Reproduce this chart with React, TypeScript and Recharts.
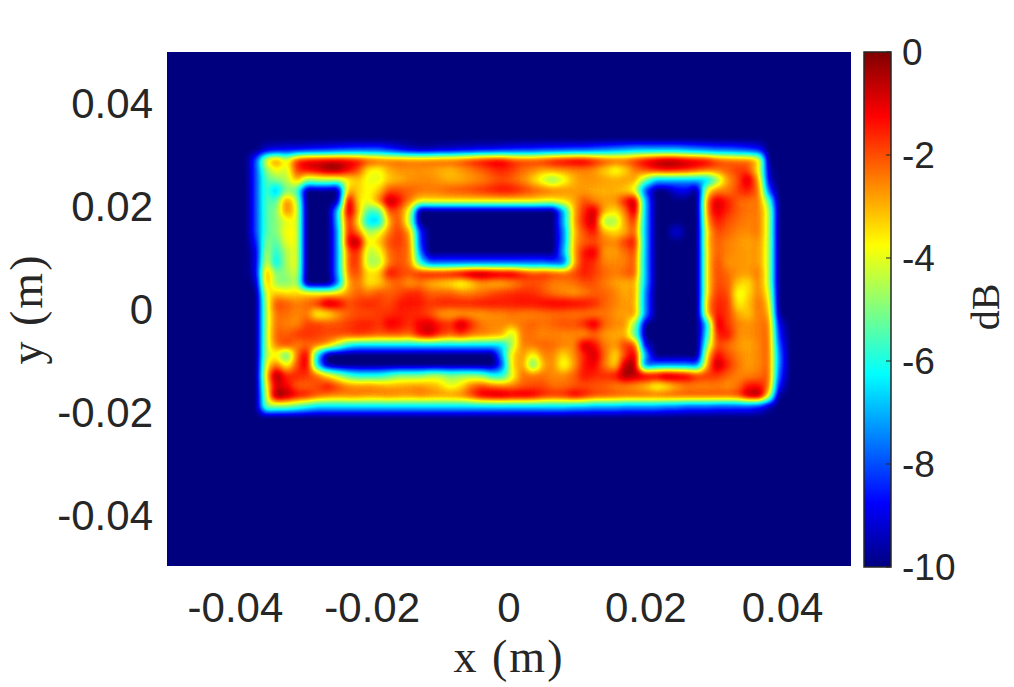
import React from 'react';
import { ScatterChart, Scatter, XAxis, YAxis, BarChart, Bar, Label } from 'recharts';

// dB, one list per row (y in mm in the name), columns are in columnsMm
const N = -10;
const columnsMm = [
  -37, -35.5, -34, -32.5, -31, -29.5, -28, -26.5, -25, -23.5,
  -22, -20.5, -19, -17.5, -16, -14.5, -13, -11.5, -10, -8.5,
  -7, -5.5, -4, -2.5, -1, 0.5, 2, 3.5, 5, 6.5,
  8, 9.5, 11, 12.5, 14, 15.5, 17, 18.5, 20, 21.5,
  23, 24.5, 26, 27.5, 29, 30.5, 32, 33.5, 35, 36.5,
  38, 39.5, 41,
];
const rowsMm = [31, 29, 27, 25, 23, 21, 19, 17, 15, 13, 11, 9, 7, 5, 3, 1, -1, -3, -5, -7, -9, -11, -13, -15, -17, -19];

const rowY31 = [N, -9.2, -9, -8.8, -8.8, -8.6, -8.5, -8.4, -8.2, -8.1,
  -8, -8, -8, -8.4, -8.8, -9.2, -9.4, -9.4, -9.2, -9.2,
  -9, -9, -8.8, -8.8, -8.6, -8.5, -8.4, -8.4, -8.2, -8.2,
  -8.1, -8, -8, -7.8, -7.6, -7.4, -7.2, -7, -7, -7,
  -7, -7, -7.2, -7.4, -7.6, -7.8, -7.8, -8, -8.2, -8.6];
const rowY29 = [-8, -4, -2.6, -4, -1.8, -1.3, -1.2, -1.1, -1.1, -1.2,
  -1.5, -2, -2.3, -2.5, -2.5, -2.6, -2.6, -2.5, -2.4, -2.3,
  -2.2, -1.8, -1.5, -1.2, -1.2, -1.8, -2, -2, -1.8, -1.4,
  -1.2, -1, -1, -1.5, -2, -2.2, -2.2, -1.8, -1.2, -0.8,
  -0.5, -0.6, -0.9, -1.1, -1.3, -2, -2.3, -2.5, -2.5, -3.5];
const rowY27 = [-8, -5, -3.8, -4.2, -1.8, -1.2, -1, -0.4, -0.4, -1.2,
  -2, -3.6, -3.8, -3, -2.7, -2.7, -2.7, -2.8, -3, -3.1,
  -2.8, -2.5, -2.2, -1.8, -1.6, -1.8, -2.3, -2.6, -2.9, -2.8,
  -2.7, -2.6, -2.5, -2.7, -3.3, -4, -3.4, -2.5, -2, -1.5,
  -1.3, -1.4, -1.6, -2, -2.3, -2.4, -2.2, -1.8, -2, -3.8, -9.5];
const rowY25 = [-8, -5.5, -5, -4.5, -3, -5, -4.7, -4.7, -4.5, -3.8,
  -3.2, -3.9, -4, -3.2, -3, -2.7, -2.6, -2.6, -2.8, -3,
  -2.9, -2.7, -2.5, -2.2, -2, -2.2, -2.6, -3.3, -4.2, -5,
  -4, -3, -2.7, -2.7, -2.8, -2.9, -2.8, -3, -5, -7,
  -7, -7, -7, -7, -7, -5, -2.8, -2, -0.7, -3, -9.2];
const rowY23 = [-8, -5.5, -7, -5, -5.5, N, N, N, -9.6, -3,
  -3.3, -3.8, -3.2, -2, -2, -2.2, -2.4, -2.5, -2.4, -2.2,
  -2.1, -2, -1.8, -1.6, -1.4, -1.5, -1.8, -2.2, -2.4, -2.6,
  -2.7, -2.8, -2.8, -2.9, -3, -3, -3.2, -4, -8, N,
  N, -9, -8.8, N, -3.8, -2.6, -2.5, -1.8, -1.5, -2.5, -8];
const rowY21 = [-8, -5.5, -5.5, -2.6, -4.5, N, N, N, -9.4, -0.7,
  -3.5, -3.8, -2.5, -0.5, -1.3, -2.5, -3.6, -3.6, -3.6, -3.6,
  -3.6, -3.6, -3.6, -3.6, -3.6, -3.6, -3.6, -3.6, -3.8, -3.8,
  -3.5, -3, -2, -2.5, -2.8, -2.7, -1.5, -0.6, -7, N,
  N, N, N, N, -2.5, -0.9, -1.5, -2.2, -2.4, -2.5, -5.5];
const rowY19 = [-8, -5.5, -5, -2.6, -4, N, N, N, -6.4, -0.7,
  -3, -5.5, -5.5, -2, -2.2, -4, N, N, N, N,
  N, N, N, N, N, N, N, N, N, N,
  -7, -3, -1.7, -0.7, -3, -3.5, -2.5, -0.7, -7, N,
  N, N, N, N, -2.5, -1, -1.6, -2.2, -2.4, -2.5, -4.5];
const rowY17 = [-8, -5.5, -5, -4, -4, N, N, N, -6.5, -1.5,
  -3.5, -6.5, -6.5, -3, -2, -4.5, N, N, N, N,
  N, N, N, N, N, N, N, N, N, N,
  -7, -3, -1.5, -0.7, -4.6, -4.6, -2.8, -1.8, -7, N,
  N, N, N, N, -3, -1.5, -2, -2.3, -2.5, -2.5, -4.5];
const rowY15 = [-8, -5.5, -5, -3.8, -4, N, N, N, -7, -1.5,
  -2.5, -4.5, -4, -2.5, -1.8, -3, -8.3, N, N, N,
  N, N, N, N, N, N, N, N, N, N,
  -7.5, -3.2, -2, -1.4, -3, -3.4, -3, -2.2, -7, N,
  N, -9, N, N, -3.5, -2, -2.2, -2.6, -2.6, -2.5, -4.5];
const rowY13 = [-8.5, -5, -5.5, -4, -4, N, N, N, -7, -1.1,
  -0.5, -3.8, -3.2, -2, -1.8, -2.6, -8.2, N, N, N,
  N, N, N, N, N, N, N, N, N, N,
  -7.5, -3, -2.2, -2, -2.4, -2.6, -1.8, -1.5, -7, N,
  N, N, N, N, -3.3, -2.2, -2.5, -2.7, -2.9, -2.7, -4.5];
const rowY11 = [-9, -4.5, -6, -4.5, -4, N, N, N, -7, -2.2,
  -1.7, -4.3, -4, -2.3, -2, -2.5, -7.5, N, N, N,
  N, N, N, N, N, N, N, N, N, N,
  -7, -3, -1.4, -1, -2.8, -2.8, -2.4, -2, -7, N,
  N, N, N, N, -3.5, -2.2, -2.5, -2.7, -2.8, -2.8, -4.5];
const rowY9 = [-9, -4, -6.5, -4.5, -4, N, N, N, -7, -2.2,
  -1.8, -4.5, -4.5, -2.5, -2, -2.5, -6, -7.8, -7.8, -7.8,
  -7.8, -7.8, -7.8, -7.8, -7.8, -7.8, -7.8, -7.8, -7.8, -8,
  -8, -3, -1.5, -1.7, -2.5, -2.6, -2.5, -2.2, -7, N,
  N, N, N, N, -3.5, -2, -2.7, -2.7, -2.8, -2.8, -4.5];
const rowY7 = [-9, -2.8, -5, -4.8, -4.2, N, N, N, -7, -2.5,
  -2, -3.5, -3.2, -1.3, -1.8, -2, -1.6, -1.4, -1.5, -1.3,
  -0.9, -0.4, -0.3, -0.6, -0.8, -0.8, -1.5, -2, -1.8, -2,
  -2.2, -2, -1.5, -1.8, -2.2, -2.5, -2.2, -2.2, -7, N,
  N, N, N, N, -3.5, -2, -2.3, -2.7, -2.8, -2.5, -4.5];
const rowY5 = [-9.5, -3, -4.8, -5, -4.5, N, N, N, -7.5, -3,
  -2.4, -3.5, -3.3, -2.5, -2.2, -2.8, -2.5, -3, -3.2, -3.5,
  -4, -3.4, -2.8, -3, -3, -2.7, -2.2, -2, -2.2, -2.5,
  -2.5, -2.3, -2, -2, -2.5, -2.8, -3, -3, -7, N,
  N, N, N, N, -3.5, -2, -2.2, -3.2, -3.5, -2.6, -4.5];
const rowY3 = [N, -4, -3.3, -3.5, -3.5, -3.5, -3.8, -3.8, -3.5, -2.8,
  -2.2, -2.4, -2, -2.2, -2, -1.6, -1.7, -2.2, -2.2, -2.2,
  -2.5, -2.5, -2.3, -2, -1.8, -1.7, -1.6, -1.7, -2, -2.4,
  -2.6, -2.8, -2.5, -2.2, -2.2, -2.5, -3, -2.8, -7.5, N,
  N, N, N, N, -3.5, -1.8, -2, -4, -3.4, -2.6, -4];
const rowY1 = [N, -4.5, -2, -2.2, -2.5, -2.3, -1.8, -0.7, -1.1, -2,
  -1.8, -1.6, -1.8, -2, -1.5, -1.4, -1.5, -1.8, -1.6, -1.6,
  -1.6, -1.6, -1.5, -1.5, -1.5, -1.5, -1.4, -1.4, -1.3, -1.2,
  -1.2, -1.3, -1.4, -1.6, -2.2, -2.5, -2.8, -3, -7.5, N,
  N, N, N, N, -3, -1.6, -1.8, -3.7, -3.2, -2.4, -3.5];
const rowYm1 = [N, -4.5, -2.4, -2.3, -2.6, -2.4, -3.9, -3.6, -2.8, -2.2,
  -2, -2, -1.8, -1.7, -1.5, -1.6, -1.7, -2, -2.7, -2.9,
  -2.8, -2.8, -2.8, -2.6, -2.6, -2.4, -2.5, -2.5, -2.4, -2.3,
  -2.3, -2.4, -2.4, -2.5, -2.4, -2.7, -2.9, -2.8, -7.5, N,
  N, N, N, N, -3.2, -1.5, -1.8, -2.9, -3.2, -2.5, -3, -9.8];
const rowYm3 = [N, -4.5, -2.4, -2.5, -2.6, -1.9, -1.8, -2, -2, -1.8,
  -1.6, -1.5, -1.8, -1.1, -1.3, -1.7, -1.1, -0.9, -1.5, -1.7,
  -0.6, -1.6, -2.4, -2.6, -2.6, -2.6, -2.4, -2.2, -2.4, -2.2,
  -2, -2, -1.6, -0.8, -2.2, -2.6, -2.7, -5, N, N,
  N, N, N, N, -6.5, -0.9, -1.8, -2.5, -2.7, -2.5, -2.5, -9];
const rowYm5 = [N, -4.5, -2.2, -2.2, -1.8, -1.7, -1.9, -2, -2, -2,
  -1.8, -2, -2.2, -2.1, -2.1, -2.3, -1.3, -1, -1.8, -2.2,
  -1.8, -2.4, -2.6, -2.8, -3, -4.5, -2.4, -2.4, -2.6, -2.5,
  -2.6, -2.5, -2.7, -2.2, -2.7, -2.9, -3, -5.5, N, N,
  N, N, N, N, -6, -1.6, -1.4, -2.6, -2.7, -2.5, -2.4, -8.5];
const rowYm7 = [N, -4.5, -2.5, -1.9, -2.5, -2.3, -2.4, -3, -4.5, -6,
  -6.5, -6.5, -6.5, -6.5, -6.5, -6.5, -6.5, -6.5, -6.5, -6.5,
  -6.5, -6.5, -6.5, -6.5, -6.5, -4.5, -2.6, -2.4, -2.2, -2.3,
  -2.5, -2.6, -0.7, -1.3, -2.4, -2.8, -1.8, -2, -9, N,
  N, N, N, N, -5, -2, -2.3, -2.7, -2.9, -2.6, -2.3, -8];
const rowYm9 = [N, -4.5, -3.8, -5.5, -2.3, -1, -6.5, N, N, N,
  N, N, N, N, N, N, N, N, N, N,
  N, N, N, N, -7, -3.5, -2.8, -3.8, -2.6, -2.6,
  -3.4, -2.6, -1.6, -0.7, -2.2, -3.5, -2, -1, -7, N,
  N, N, N, N, -3.5, -1.3, -2, -2.5, -2.8, -2.6, -2.3, -7.6];
const rowYm11 = [N, -4, -2.4, -3.8, -2, -1, -6.5, -9.5, N, N,
  N, N, N, N, N, N, N, N, N, N,
  N, N, N, N, -8, -3.5, -2.8, -5.5, -3, -2.6,
  -4, -2.8, -1.4, -1.1, -2.4, -3.4, -0.6, -0.5, -8, -7.4,
  -7.4, -7.4, -7.4, -7.6, -3, -0.5, -1.6, -2.4, -2.8, -2.6, -2.3, -7.6];
const rowYm13 = [N, -3.5, -0.3, -1.6, -1.6, -1.8, -2.3, -3.5, -4.5, -5.5,
  -6, -6, -6, -5.5, -5, -5, -5, -4.5, -4.5, -5,
  -4.8, -4.8, -5, -6, -6, -4, -2.4, -2.4, -2.4, -2.6,
  -2.6, -2.2, -1.4, -1.6, -1.7, -1.5, -0.3, -0.7, -1, -1.1,
  -0.5, -0.8, -1.1, -1.8, -1.8, -1.8, -2.2, -2.5, -2.5, -2.4, -2.2, -8];
const rowYm15 = [N, -4, -1, -1.2, -2.2, -2.2, -2, -1.4, -2, -2.6,
  -2.7, -2.6, -2.8, -3, -2.9, -2.8, -2.7, -3, -3.3, -4,
  -3.5, -2.4, -2, -2.3, -2.5, -2.5, -2.2, -2, -2, -2.3,
  -2.3, -2.1, -2, -2.1, -2.2, -2.5, -2.6, -2.8, -3.2, -4,
  -3.7, -3, -2.6, -2.6, -2.6, -2.5, -2.7, -2.4, -1.4, -1.4, -2.5, -8.8];
const rowYm17 = [N, -4.5, -0.2, -0.6, -1.3, -1.6, -2.2, -2.6, -2.7, -2.6,
  -2.6, -2.8, -2.7, -2.6, -2.7, -2.8, -2.6, -2.7, -2.8, -2.7,
  -2.6, -2, -1.1, -0.8, -0.7, -1, -0.9, -1.1, -1.6, -1.8,
  -1.7, -1.1, -1.5, -2, -2.1, -2.2, -2.3, -2.3, -2.3, -2.3,
  -2.2, -2.2, -2.2, -2.2, -2.2, -2.2, -2.2, -2, -0.8, -0.5, -4];
const rowYm19 = [N, -5, -5, -5, -5.5, -6, -6.5, -6.5, -6.5, -6.5,
  -6.5, -6.5, -6.5, -6.5, -6.5, -6.5, -6.5, -6.5, -6.5, -6.5,
  -6.5, -6.5, -6.5, -6.5, -6.5, -6.5, -6.5, -6.5, -6.5, -6.5,
  -6.5, -6.8, -6.8, -7, -7, -7, -7.2, -7.2, -7.2, -7.2,
  -7.5, -7.5, -7.8, -7.8, -7.8, -8, -8, -8, -8, -8.4, -9.5];

const rows = [rowY31, rowY29, rowY27, rowY25, rowY23, rowY21, rowY19, rowY17, rowY15, rowY13, rowY11, rowY9, rowY7,
  rowY5, rowY3, rowY1, rowYm1, rowYm3, rowYm5, rowYm7, rowYm9, rowYm11, rowYm13, rowYm15, rowYm17, rowYm19];

const xTicks = [-0.04, -0.02, 0, 0.02, 0.04];
const yTicks = [-0.04, -0.02, 0, 0.02, 0.04];
const barTicks = [-10, -8, -6, -4, -2, 0];
const barData = [{ name: 'dB', range: [-10, 0] }];

// MATLAB jet at even steps, from -10 dB to 0 dB
const jetR = [0, 0, 0, 0, 0.5, 1, 1, 1, 0.5];
const jetG = [0, 0, 0.5, 1, 1, 1, 0.5, 0, 0];
const jetB = [0.5, 1, 1, 1, 0.5, 0, 0, 0, 0];

const cells = rows.flatMap((row, j) =>
  row.map((dB, i) => ({ x: columnsMm[i] / 1000, y: rowsMm[j] / 1000, dB })).filter((c) => c.dB > N)
);

const toHex = (v: number) => Math.round(v * 255).toString(16).padStart(2, '0');
const tickStyle = { fontFamily: 'Liberation Sans', fontSize: 42, fill: '#262626' };
const labelStyle = { fontFamily: 'Liberation Serif', fontSize: 46, fill: '#262626', letterSpacing: 2, textAnchor: 'middle' as const };

// drawn as grey levels, the jetBlur filter smooths them and maps them to jet
const GreyCell = (props: any) => {
  const g = Math.round(((props.payload.dB + 10) / 10) * 255);
  return <rect x={props.cx - 5.4} y={props.cy - 5.4} width={10.8} height={10.8} fill={`rgb(${g},${g},${g})`} shapeRendering="crispEdges" />;
};

export default function App() {
  return (
    <div style={{ position: 'absolute', left: 0, top: 0, width: 1014, height: 687, background: '#fff' }}>
      <style>{`.heat-cells { filter: url(#jetBlur); }`}</style>
      <svg width={0} height={0} style={{ position: 'absolute' }}>
        <defs>
          <filter id="jetBlur" filterUnits="userSpaceOnUse" x={167} y={52} width={684} height={514} colorInterpolationFilters="sRGB">
            <feFlood floodColor="#000" result="bg" />
            <feComposite in="SourceGraphic" in2="bg" operator="over" result="flat" />
            <feGaussianBlur in="flat" stdDeviation={4} result="soft" />
            <feGaussianBlur in="flat" stdDeviation={9} result="wide" />
            {/* small unsharp step, the ring's red texture washes out otherwise */}
            <feComposite in="soft" in2="wide" operator="arithmetic" k1={0} k2={1.2} k3={-0.2} k4={0} />
            <feColorMatrix type="matrix" values="1 0 0 0 0  1 0 0 0 0  1 0 0 0 0  0 0 0 0 1" />
            <feComponentTransfer>
              <feFuncR type="table" tableValues={jetR.join(' ')} />
              <feFuncG type="table" tableValues={jetG.join(' ')} />
              <feFuncB type="table" tableValues={jetB.join(' ')} />
            </feComponentTransfer>
          </filter>
          <linearGradient id="jetBar" x1="0" y1="1" x2="0" y2="0">
            {jetR.map((r, i) => (
              <stop key={i} offset={i / 8} stopColor={`#${toHex(r)}${toHex(jetG[i])}${toHex(jetB[i])}`} />
            ))}
          </linearGradient>
        </defs>
      </svg>

      <div style={{ position: 'absolute', left: 0, top: 0 }}>
        <ScatterChart width={1014} height={687} margin={{ top: 52, right: 163, bottom: 61, left: 67 }}>
          <XAxis
            type="number"
            dataKey="x"
            domain={[-0.05, 0.05]}
            ticks={xTicks}
            interval={0}
            height={60}
            axisLine={false}
            tickLine={false}
            tickMargin={20}
            tick={tickStyle}
          >
            <Label value="x (m)" position="bottom" offset={13} style={labelStyle} />
          </XAxis>
          <YAxis
            type="number"
            dataKey="y"
            domain={[-0.05, 0.05]}
            ticks={yTicks}
            interval={0}
            width={100}
            axisLine={false}
            tickLine={false}
            tickMargin={8}
            tick={tickStyle}
          >
            <Label value="y (m)" angle={-90} position="left" offset={41} style={labelStyle} />
          </YAxis>
          <Scatter data={cells} className="heat-cells" isAnimationActive={false} shape={GreyCell} />
        </ScatterChart>
      </div>

      <div style={{ position: 'absolute', left: 844, top: 0 }}>
        <BarChart width={170} height={687} data={barData} margin={{ top: 52, right: 23, bottom: 120, left: 20 }} barCategoryGap={0}>
          <XAxis dataKey="name" hide />
          <YAxis
            orientation="right"
            type="number"
            domain={[-10, 0]}
            ticks={barTicks}
            interval={0}
            width={100}
            axisLine={false}
            tickSize={-5}
            tickMargin={16}
            tickLine={{ stroke: '#262626' }}
            tick={{ ...tickStyle, fontSize: 37, textAnchor: 'start' }}
          />
          <Bar dataKey="range" fill="url(#jetBar)" stroke="#262626" strokeWidth={1.5} isAnimationActive={false} />
        </BarChart>
      </div>
      <div
        style={{
          position: 'absolute',
          left: 985,
          top: 307,
          transform: 'translate(-50%, -50%) rotate(-90deg)',
          fontFamily: 'Liberation Serif',
          fontSize: 40,
          color: '#262626',
        }}
      >
        dB
      </div>
    </div>
  );
}
